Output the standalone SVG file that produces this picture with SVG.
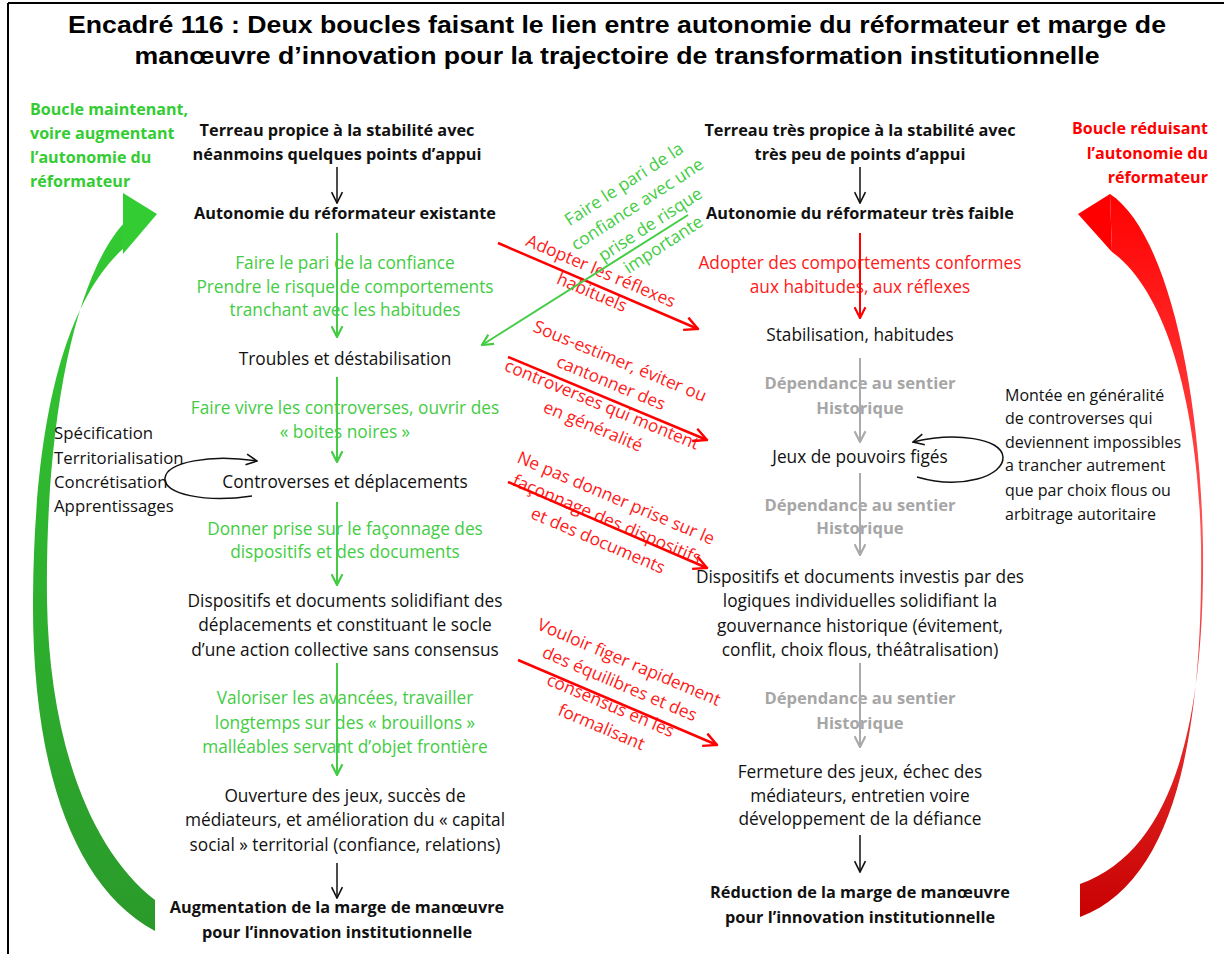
<svg xmlns="http://www.w3.org/2000/svg" width="1224" height="954" viewBox="0 0 1224 954">
<style>
.t{font-family:"Open Sans","Noto Sans",sans-serif;font-size:17.3px;fill:#111;text-anchor:middle}
.b{font-weight:bold;font-size:16.3px}
.g{fill:#44cc44}
.r{fill:#ff1a1a}
.gr{fill:#a6a6a6;font-weight:bold;font-size:16.6px}
.title{font-family:"Liberation Sans",Arial,sans-serif;font-weight:bold;font-size:24px;fill:#000;text-anchor:middle}
.lbl{font-family:"Open Sans","Noto Sans",sans-serif;font-weight:bold;font-size:16.1px}
.lft{font-family:"Open Sans","Noto Sans",sans-serif;font-size:16.8px;fill:#111}
.rgt{font-family:"Open Sans","Noto Sans",sans-serif;font-size:16px;fill:#111}
.ck{stroke:#111;stroke-width:1.5;fill:none}
.cg{stroke:#44cc44;stroke-width:2;fill:none}
.cr{stroke:#ff0000;stroke-width:2;fill:none}
.crd{stroke:#ff0000;stroke-width:2.5;fill:none}
.cgy{stroke:#aaaaaa;stroke-width:2;fill:none}
.cgd{stroke:#44cc44;stroke-width:2;fill:none}
</style>
<defs>
<marker id="mk" viewBox="0 0 12 12" refX="11" refY="6" markerWidth="13" markerHeight="13" markerUnits="userSpaceOnUse" orient="auto"><path d="M1,1 L11,6 L1,11" fill="none" stroke="#111" stroke-width="1.5"/></marker>
<marker id="mg" viewBox="0 0 12 12" refX="11" refY="6" markerWidth="13" markerHeight="13" markerUnits="userSpaceOnUse" orient="auto"><path d="M1,1 L11,6 L1,11" fill="none" stroke="#44cc44" stroke-width="2"/></marker>
<marker id="mr" viewBox="0 0 12 12" refX="11" refY="6" markerWidth="13" markerHeight="13" markerUnits="userSpaceOnUse" orient="auto"><path d="M1,1 L11,6 L1,11" fill="none" stroke="#ff0000" stroke-width="2"/></marker>
<marker id="mrd" viewBox="0 0 12 12" refX="11" refY="6" markerWidth="16" markerHeight="16" markerUnits="userSpaceOnUse" orient="auto"><path d="M1,1 L11,6 L1,11" fill="none" stroke="#ff0000" stroke-width="1.8"/></marker>
<marker id="my" viewBox="0 0 12 12" refX="11" refY="6" markerWidth="13" markerHeight="13" markerUnits="userSpaceOnUse" orient="auto"><path d="M1,1 L11,6 L1,11" fill="none" stroke="#aaaaaa" stroke-width="2"/></marker>
<linearGradient id="gg" x1="0" y1="190" x2="0" y2="930" gradientUnits="userSpaceOnUse"><stop offset="0" stop-color="#33cc33"/><stop offset="1" stop-color="#2a9a2a"/></linearGradient>
<linearGradient id="rg" x1="0" y1="190" x2="0" y2="920" gradientUnits="userSpaceOnUse"><stop offset="0" stop-color="#ff0000"/><stop offset="0.48" stop-color="#ff5555"/><stop offset="1" stop-color="#c80000"/></linearGradient>
</defs>
<rect width="1224" height="954" fill="#fff"/>
<g id="frame" stroke="#000" stroke-width="2"><line x1="8" y1="3" x2="1224" y2="3"/><line x1="8" y1="3" x2="8" y2="954"/></g>
<g id="title"><text class="title" x="617" y="33" textLength="1098" lengthAdjust="spacingAndGlyphs">Encadré 116 : Deux boucles faisant le lien entre autonomie du réformateur et marge de</text><text class="title" x="617" y="64" textLength="965" lengthAdjust="spacingAndGlyphs">manœuvre d’innovation pour la trajectoire de transformation institutionnelle</text></g>

<g id="loop-green">
<path d="M125,222 C75,275 45,420 47,600 C49,740 90,850 155,900 L155,931 C70,885 32,760 33,600 C34,420 65,300 125,247 Z" fill="url(#gg)"/>
<polygon points="123,193 157,214 123,254" fill="#33cc33"/>
<text class="lbl" fill="#33cc33" x="30" y="115">Boucle maintenant,</text>
<text class="lbl" fill="#33cc33" x="30" y="139">voire augmentant</text>
<text class="lbl" fill="#33cc33" x="30" y="163">l’autonomie  du</text>
<text class="lbl" fill="#33cc33" x="30" y="187">réformateur</text>
</g>
<g id="loop-red">
<path d="M1110,194 C1165,230 1200,380 1203,545 C1205,720 1175,850 1080,884 L1080,917 C1180,880 1203,720 1201,545 C1198,400 1165,290 1112,252 Z" fill="url(#rg)"/>
<polygon points="1110,194 1078,214 1112,252" fill="#ff0000"/>
<text class="lbl" fill="#ff0000" text-anchor="end" x="1208" y="134">Boucle réduisant</text>
<text class="lbl" fill="#ff0000" text-anchor="end" x="1208" y="159">l’autonomie  du</text>
<text class="lbl" fill="#ff0000" text-anchor="end" x="1208" y="183">réformateur</text>
</g>

<g id="n-l1"><text class="t b" x="337" y="136">Terreau propice à la stabilité avec</text><text class="t b" x="337" y="160">néanmoins quelques points d’appui</text></g>
<g id="n-l2"><text class="t b" x="345" y="219">Autonomie du réformateur existante</text></g>
<g id="lab-l2"><text class="t g" x="345" y="269">Faire le pari de la confiance</text><text class="t g" x="345" y="293">Prendre le risque de comportements</text><text class="t g" x="345" y="316">tranchant avec les habitudes</text></g>
<g id="n-l3"><text class="t" x="345" y="365">Troubles et déstabilisation</text></g>
<g id="lab-l3"><text class="t g" x="345" y="414">Faire vivre les controverses, ouvrir des</text><text class="t g" x="345" y="438">« boites noires »</text></g>
<g id="n-l4"><text class="t" x="345" y="488">Controverses et déplacements</text></g>
<g id="lab-l4"><text class="t g" x="345" y="535">Donner prise sur le façonnage des</text><text class="t g" x="345" y="558">dispositifs et des documents</text></g>
<g id="n-l5"><text class="t" x="345" y="607">Dispositifs et documents solidifiant des</text><text class="t" x="345" y="631">déplacements et constituant le socle</text><text class="t" x="345" y="656">d’une action collective sans consensus</text></g>
<g id="lab-l5"><text class="t g" x="345" y="704">Valoriser les avancées, travailler</text><text class="t g" x="345" y="729">longtemps sur des « brouillons »</text><text class="t g" x="345" y="753">malléables servant d’objet frontière</text></g>
<g id="n-l6"><text class="t" x="345" y="802">Ouverture des jeux, succès de</text><text class="t" x="345" y="826">médiateurs, et amélioration du « capital</text><text class="t" x="345" y="851">social » territorial (confiance, relations)</text></g>
<g id="n-l7"><text class="t b" x="337" y="913">Augmentation de la marge de manœuvre</text><text class="t b" x="337" y="938">pour l’innovation  institutionnelle</text></g>
<g id="n-lside"><text class="lft" x="54" y="439">Spécification</text><text class="lft" x="54" y="464">Territorialisation</text><text class="lft" x="54" y="488">Concrétisation</text><text class="lft" x="54" y="512">Apprentissages</text></g>

<g id="n-r1"><text class="t b" x="860" y="136">Terreau très propice à la stabilité avec</text><text class="t b" x="860" y="160">très peu de points d’appui</text></g>
<g id="n-r2"><text class="t b" x="860" y="219">Autonomie du réformateur très faible</text></g>
<g id="lab-r2"><text class="t r" x="860" y="269">Adopter des comportements  conformes</text><text class="t r" x="860" y="293">aux habitudes, aux réflexes</text></g>
<g id="n-r3"><text class="t" x="860" y="341">Stabilisation, habitudes</text></g>
<g id="lab-r3"><text class="t gr" x="860" y="389">Dépendance au sentier</text><text class="t gr" x="860" y="414">Historique</text></g>
<g id="n-r4"><text class="t" x="860" y="463">Jeux de pouvoirs figés</text></g>
<g id="lab-r4"><text class="t gr" x="860" y="511">Dépendance au sentier</text><text class="t gr" x="860" y="534">Historique</text></g>
<g id="n-r5"><text class="t" x="860" y="583">Dispositifs et documents investis par des</text><text class="t" x="860" y="607">logiques individuelles solidifiant la</text><text class="t" x="860" y="632">gouvernance historique (évitement,</text><text class="t" x="860" y="656">conflit, choix flous, théâtralisation)</text></g>
<g id="lab-r5"><text class="t gr" x="860" y="704">Dépendance au sentier</text><text class="t gr" x="860" y="729">Historique</text></g>
<g id="n-r6"><text class="t" x="860" y="778">Fermeture des jeux, échec des</text><text class="t" x="860" y="802">médiateurs, entretien voire</text><text class="t" x="860" y="825">développement de la défiance</text></g>
<g id="n-r7"><text class="t b" x="860" y="898">Réduction de la marge de manœuvre</text><text class="t b" x="860" y="923">pour l’innovation  institutionnelle</text></g>
<g id="n-rside"><text class="rgt" x="1005" y="401">Montée en généralité</text><text class="rgt" x="1005" y="424">de controverses qui</text><text class="rgt" x="1005" y="448">deviennent impossibles</text><text class="rgt" x="1005" y="471">a trancher autrement</text><text class="rgt" x="1005" y="496">que par choix flous ou</text><text class="rgt" x="1005" y="520">arbitrage autoritaire</text></g>

<g id="lab-diag">
<text class="t r" transform="translate(601,271) rotate(23)"><tspan x="0" y="6">Adopter les réflexes</tspan><tspan x="0" y="29">habituels</tspan></text>
<text class="t g" transform="translate(624,184) rotate(-33)"><tspan x="0" y="6">Faire le pari de la</tspan><tspan x="0" y="30">confiance avec une</tspan><tspan x="0" y="54">prise de risque</tspan><tspan x="0" y="78">importante</tspan></text>
<text class="t r" transform="translate(620,361) rotate(22.5)"><tspan x="0" y="6">Sous-estimer,  éviter ou</tspan><tspan x="0" y="29.5">cantonner des</tspan><tspan x="0" y="53">controverses qui montent</tspan><tspan x="0" y="76.5">en généralité</tspan></text>
<text class="t r" transform="translate(616,498) rotate(23)"><tspan x="0" y="6">Ne pas donner prise sur le</tspan><tspan x="0" y="29">façonnage des dispositifs</tspan><tspan x="0" y="52">et des documents</tspan></text>
<text class="t r" transform="translate(629,662) rotate(23)"><tspan x="0" y="6">Vouloir figer rapidement</tspan><tspan x="0" y="29.5">des équilibres  et des</tspan><tspan x="0" y="53">consensus en les</tspan><tspan x="0" y="76.5">formalisant</tspan></text>
</g>

<g id="connectors">
<line class="ck" x1="337" y1="167" x2="337" y2="203" marker-end="url(#mk)"/>
<line class="cg" x1="337" y1="233" x2="337" y2="337" marker-end="url(#mg)"/>
<line class="cg" x1="337" y1="377" x2="337" y2="462" marker-end="url(#mg)"/>
<line class="cg" x1="337" y1="502" x2="337" y2="585" marker-end="url(#mg)"/>
<line class="cg" x1="337" y1="663" x2="337" y2="775" marker-end="url(#mg)"/>
<line class="ck" x1="337" y1="863" x2="337" y2="898" marker-end="url(#mk)"/>
<line class="ck" x1="860" y1="167" x2="860" y2="203" marker-end="url(#mk)"/>
<line class="cr" x1="860" y1="233" x2="860" y2="318" marker-end="url(#mr)"/>
<line class="cgy" x1="860" y1="358" x2="860" y2="442" marker-end="url(#my)"/>
<line class="cgy" x1="860" y1="473" x2="860" y2="555" marker-end="url(#my)"/>
<line class="cgy" x1="860" y1="663" x2="860" y2="747" marker-end="url(#my)"/>
<line class="ck" x1="860" y1="835" x2="860" y2="872" marker-end="url(#mk)"/>
<line class="crd" x1="498" y1="243" x2="698" y2="329" marker-end="url(#mrd)"/>
<line class="cgd" x1="688" y1="215" x2="482" y2="345" marker-end="url(#mg)"/>
<line class="crd" x1="508" y1="357" x2="707" y2="440" marker-end="url(#mrd)"/>
<line class="crd" x1="508" y1="482" x2="707" y2="568" marker-end="url(#mrd)"/>
<line class="crd" x1="518" y1="660" x2="717" y2="745" marker-end="url(#mrd)"/>
<path class="ck" d="M252,496 C205,503 163,494 165,478 C167,462 210,454 257,461" marker-end="url(#mk)"/>
<path class="ck" d="M917,477 C962,490 1004,476 1003,457 C1002,438 955,432 913,442" marker-end="url(#mk)"/>
</g>
</svg>
